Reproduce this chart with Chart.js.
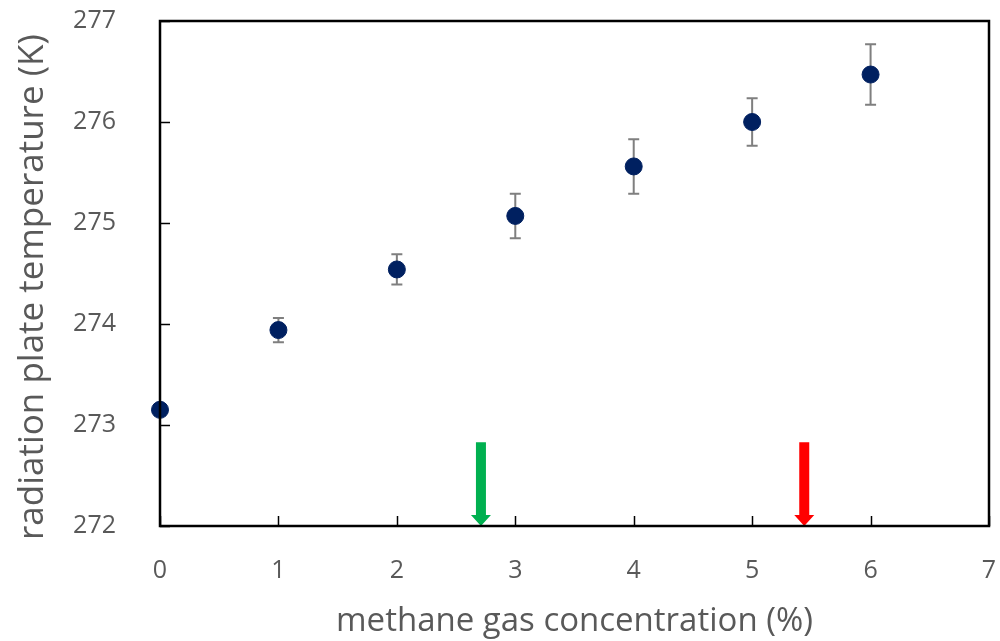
<!DOCTYPE html>
<html>
<head>
<meta charset="utf-8">
<script src="https://cdn.jsdelivr.net/npm/chart.js@4"></script>
<style>
  html, body { margin: 0; padding: 0; background: #fff; }
  #wrap { width: 1000px; height: 641px; }
</style>
</head>
<body>
<div id="wrap"><canvas id="chart"></canvas></div>
<script>
// methane concentration (%) and measured plate temperature (K)
const concentration = [0, 1, 2, 3, 4, 5, 6];
const temperature = [273.15, 273.94, 274.54, 275.07, 275.56, 276.0, 276.47];
const tempError = [0, 0.12, 0.15, 0.22, 0.27, 0.235, 0.30];

// marker arrows on the x axis
const arrowX = [2.71, 5.44];
const arrowColors = ["#00B050", "#FF0000"];
const arrowTop = 272.83;

const textColor = "#595959";
const fontFamily = "'Open Sans', sans-serif";

// black frame + ticks pointing inward
const framePlugin = {
  id: "frame",
  afterDraw(chart) {
    const { ctx, chartArea: a, scales } = chart;
    ctx.save();
    ctx.strokeStyle = "#000";
    ctx.lineWidth = 1.5;
    scales.x.ticks.forEach(t => {
      const px = Math.round(scales.x.getPixelForValue(t.value)) + 0.5;
      ctx.beginPath();
      ctx.moveTo(px, a.bottom);
      ctx.lineTo(px, a.bottom - 10);
      ctx.stroke();
    });
    scales.y.ticks.forEach(t => {
      const py = Math.round(scales.y.getPixelForValue(t.value)) + 0.5;
      ctx.beginPath();
      ctx.moveTo(a.left, py);
      ctx.lineTo(a.left + 10, py);
      ctx.stroke();
    });
    ctx.lineWidth = 2.5;
    ctx.strokeRect(a.left, a.top, a.right - a.left, a.bottom - a.top);
    ctx.restore();
  }
};

// vertical error bars
const errorPlugin = {
  id: "errors",
  beforeDatasetsDraw(chart) {
    const { ctx, scales } = chart;
    ctx.save();
    ctx.strokeStyle = "#7f7f7f";
    ctx.lineWidth = 2;
    concentration.forEach((c, i) => {
      if (!tempError[i]) return;
      const px = scales.x.getPixelForValue(c);
      const hi = scales.y.getPixelForValue(temperature[i] + tempError[i]);
      const lo = scales.y.getPixelForValue(temperature[i] - tempError[i]);
      ctx.beginPath();
      ctx.moveTo(px, hi); ctx.lineTo(px, lo);
      ctx.moveTo(px - 5.5, hi); ctx.lineTo(px + 5.5, hi);
      ctx.moveTo(px - 5.5, lo); ctx.lineTo(px + 5.5, lo);
      ctx.stroke();
    });
    ctx.restore();
  }
};

// down arrows
const arrowPlugin = {
  id: "arrows",
  afterDatasetsDraw(chart) {
    const { ctx, scales } = chart;
    ctx.save();
    arrowX.forEach((v, i) => {
      const px = scales.x.getPixelForValue(v);
      const top = scales.y.getPixelForValue(arrowTop);
      const bottom = scales.y.getPixelForValue(272);
      const headH = 11, shaft = 5, head = 10;
      ctx.fillStyle = arrowColors[i];
      ctx.beginPath();
      ctx.moveTo(px - shaft, top);
      ctx.lineTo(px + shaft, top);
      ctx.lineTo(px + shaft, bottom - headH);
      ctx.lineTo(px + head, bottom - headH);
      ctx.lineTo(px, bottom);
      ctx.lineTo(px - head, bottom - headH);
      ctx.lineTo(px - shaft, bottom - headH);
      ctx.closePath();
      ctx.fill();
    });
    ctx.restore();
  }
};

const ctx = document.getElementById("chart").getContext("2d");
new Chart(ctx, {
  type: "scatter",
  data: {
    datasets: [{
      data: concentration.map((c, i) => ({ x: c, y: temperature[i] })),
      backgroundColor: "#002060",
      borderColor: "#002060",
      pointRadius: 8.5,
      pointHoverRadius: 8.5,
      clip: false,
    }],
  },
  options: {
    responsive: true,
    maintainAspectRatio: false,
    animation: false,
    layout: { padding: { top: 21, right: 11, left: 0, bottom: 0 } },
    plugins: {
      legend: { display: false },
      tooltip: { enabled: false },
    },
    scales: {
      x: {
        type: "linear",
        min: 0,
        max: 7,
        grid: { display: false },
        border: { display: false },
        ticks: {
          stepSize: 1,
          padding: 22,
          color: textColor,
          font: { family: fontFamily, size: 25 },
        },
        title: {
          display: true,
          text: "methane gas concentration (%)",
          color: textColor,
          font: { family: fontFamily, size: 33 },
          padding: { top: 0, bottom: 0 },
        },
        afterFit(scale) {
          scale.height = 115;
          scale.paddingLeft = 0;
          scale.paddingRight = 0;
        },
      },
      y: {
        min: 272,
        max: 277,
        grid: { display: false },
        border: { display: false },
        ticks: {
          stepSize: 1,
          padding: 36,
          color: textColor,
          font: { family: fontFamily, size: 25 },
        },
        title: {
          display: true,
          text: "radiation plate temperature (K)   ",
          color: textColor,
          font: { family: fontFamily, size: 35 },
          padding: { top: 12, bottom: 0 },
        },
        afterFit(scale) {
          scale.width = 160;
          scale.paddingTop = 0;
          scale.paddingBottom = 0;
        },
      },
    },
  },
  plugins: [errorPlugin, arrowPlugin, framePlugin],
});
</script>
</body>
</html>
